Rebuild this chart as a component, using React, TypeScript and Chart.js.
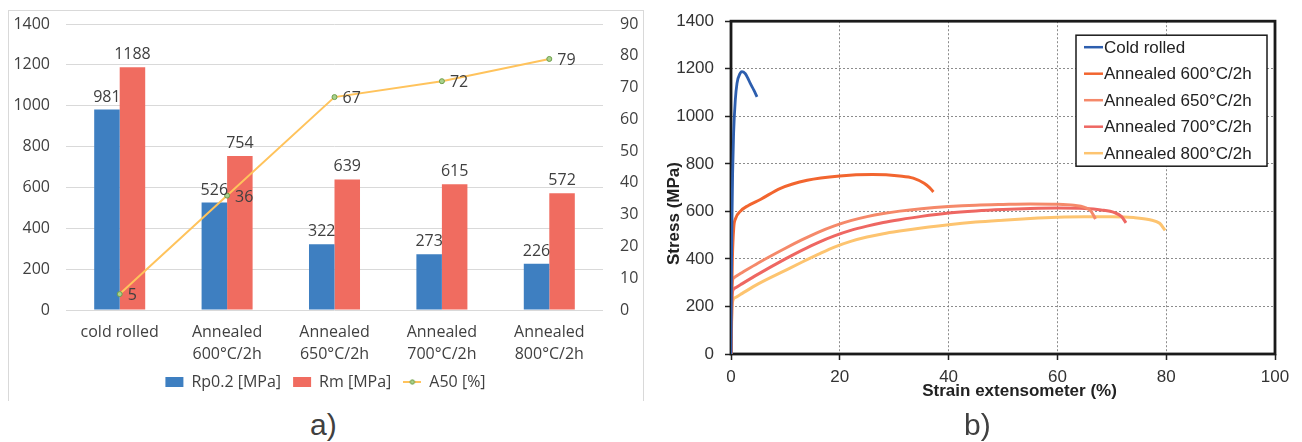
import React, { useEffect, useRef } from "react";
import { Chart, registerables } from "chart.js";

Chart.register(...registerables);

// ---------- chart a) data ----------
const categories = [
  ["cold rolled"],
  ["Annealed", "600°C/2h"],
  ["Annealed", "650°C/2h"],
  ["Annealed", "700°C/2h"],
  ["Annealed", "800°C/2h"],
];
const rp02 = [981, 526, 322, 273, 226];
const rm = [1188, 754, 639, 615, 572];
const a50 = [5, 36, 67, 72, 79];
const seriesNamesA = ["Rp0.2 [MPa]", "Rm [MPa]", "A50 [%]"];

// ---------- chart b) data (strain %, stress MPa) ----------
const coldStrain = [0, 0.05, 0.1, 0.18, 0.3, 0.48, 0.79, 1.1, 1.7, 2.0, 2.6, 3.1, 3.55, 4.2, 4.78];
const coldStress = [0, 200, 400, 563, 760, 928, 1068, 1138, 1182, 1188, 1180, 1160, 1138, 1110, 1082];

const a600Strain = [0, 0.1, 0.25, 0.5, 0.8, 1.7, 3.2, 5.4, 9.1, 14, 20, 26, 31, 33.5, 35.5, 36.5, 37.2];
const a600Stress = [0, 200, 400, 530, 568, 600, 625, 650, 697, 731, 749, 755, 749, 740, 718, 700, 682];

const a650Strain = [0, 0.1, 0.2, 0.5, 1, 2, 5, 10, 13, 16, 19, 22, 25, 28, 31, 35, 40, 45, 50, 55, 60, 63, 65, 66.2, 67];
const a650Stress = [0, 150, 290, 320, 328, 342, 383, 445, 480, 512, 539, 561, 578, 591, 601, 611, 620, 626, 629, 631, 630, 626, 617, 600, 568];

const a700Strain = [0, 0.1, 0.2, 0.5, 1, 2, 5, 10, 13, 16, 19, 22, 25, 28, 31, 35, 40, 45, 50, 55, 60, 65, 68, 70.5, 71.8, 72.6];
const a700Stress = [0, 140, 245, 273, 281, 295, 336, 400, 436, 469, 497, 520, 538, 553, 565, 579, 593, 602, 608, 612, 614, 612, 606, 595, 578, 552];

const a800Strain = [0, 0.1, 0.2, 0.5, 1, 2, 5, 10, 13, 16, 19, 22, 25, 28, 31, 35, 40, 45, 50, 55, 60, 65, 70, 74, 77, 78.8, 79.8];
const a800Stress = [0, 110, 200, 232, 240, 254, 295, 352, 386, 419, 450, 474, 492, 506, 517, 530, 544, 555, 563, 570, 575, 577, 577, 574, 565, 550, 520];

const curveNames = [
  "Cold rolled",
  "Annealed 600°C/2h",
  "Annealed 650°C/2h",
  "Annealed 700°C/2h",
  "Annealed 800°C/2h",
];
const curveStrains = [coldStrain, a600Strain, a650Strain, a700Strain, a800Strain];
const curveStresses = [coldStress, a600Stress, a650Stress, a700Stress, a800Stress];
const curveColors = ["#2D5EAE", "#F2652F", "#F5896A", "#EE6762", "#FDC470"];

// ---------- styles ----------
const FONT_A = "'Open Sans', sans-serif";
const FONT_B = "'Liberation Sans', Arial, sans-serif";
const TXT_A = "#404040";
const BLUE = "#3E7FC1";
const RED = "#F06C60";
const LINE = "#FFC35C";
const PT_FILL = "#A9D18E";
const PT_BORDER = "#6E9F4A";
const CLEAR = "rgba(0,0,0,0)";

const plain = (v: any) => String(v);

function makeLineIcon(): HTMLCanvasElement {
  const c = document.createElement("canvas");
  c.width = 18;
  c.height = 10;
  const g = c.getContext("2d")!;
  g.strokeStyle = LINE;
  g.lineWidth = 2;
  g.beginPath();
  g.moveTo(0, 5);
  g.lineTo(18, 5);
  g.stroke();
  g.beginPath();
  g.arc(9, 5, 2.2, 0, Math.PI * 2);
  g.fillStyle = PT_FILL;
  g.fill();
  g.strokeStyle = PT_BORDER;
  g.lineWidth = 1;
  g.stroke();
  return c;
}

const valueLabels = {
  id: "valueLabels",
  afterDatasetsDraw(chart: any) {
    const ctx = chart.ctx;
    ctx.save();
    ctx.font = `16px ${FONT_A}`;
    ctx.fillStyle = TXT_A;
    ctx.textBaseline = "alphabetic";
    chart.data.datasets.forEach((ds: any, di: number) => {
      const meta = chart.getDatasetMeta(di);
      meta.data.forEach((el: any, i: number) => {
        const v = String(ds.data[i]);
        if (ds.type === "line") {
          ctx.textAlign = "left";
          ctx.fillText(v, el.x + 8, el.y + 6);
        } else {
          ctx.textAlign = "center";
          ctx.fillText(v, el.x, el.y - 8);
        }
      });
    });
    ctx.restore();
  },
};

const frameAndLegendB = {
  id: "frameAndLegendB",
  beforeDatasetsDraw(chart: any) {
    const { ctx, chartArea: a } = chart;
    ctx.save();
    ctx.strokeStyle = "#1a1a1a";
    ctx.lineWidth = 2.8;
    ctx.strokeRect(a.left, a.top, a.right - a.left, a.bottom - a.top);
    ctx.restore();
  },
  afterDatasetsDraw(chart: any) {
    const { ctx, chartArea: a } = chart;
    const w = 191;
    const h = 131;
    const left = a.right - 8 - w;
    const top = a.top + 14;
    ctx.save();
    ctx.fillStyle = "#ffffff";
    ctx.fillRect(left, top, w, h);
    ctx.strokeStyle = "#1a1a1a";
    ctx.lineWidth = 1.5;
    ctx.strokeRect(left, top, w, h);
    ctx.font = `17px ${FONT_B}`;
    ctx.textAlign = "left";
    ctx.textBaseline = "middle";
    chart.data.datasets.forEach((ds: any, i: number) => {
      const y = top + 12 + i * 26.5;
      ctx.strokeStyle = ds.borderColor;
      ctx.lineWidth = 2.5;
      ctx.beginPath();
      ctx.moveTo(left + 8, y);
      ctx.lineTo(left + 27, y);
      ctx.stroke();
      ctx.fillStyle = "#222";
      ctx.fillText(ds.label, left + 28, y + 1);
    });
    ctx.restore();
  },
};

export default function App() {
  const refA = useRef<HTMLCanvasElement>(null);
  const refB = useRef<HTMLCanvasElement>(null);

  useEffect(() => {
    const lineIcon = makeLineIcon();
    const fontA = { family: FONT_A, size: 16 };

    const chartA = new Chart(refA.current!, {
      type: "bar",
      data: {
        labels: categories as any,
        datasets: [
          {
            type: "bar",
            label: seriesNamesA[0],
            data: rp02,
            backgroundColor: BLUE,
            borderWidth: 0,
            yAxisID: "y",
            categoryPercentage: 0.475,
            barPercentage: 1,
            order: 1,
          },
          {
            type: "bar",
            label: seriesNamesA[1],
            data: rm,
            backgroundColor: RED,
            borderWidth: 0,
            yAxisID: "y",
            categoryPercentage: 0.475,
            barPercentage: 1,
            order: 1,
          },
          {
            type: "line",
            label: seriesNamesA[2],
            data: a50,
            borderColor: LINE,
            backgroundColor: LINE,
            borderWidth: 2,
            pointRadius: 2.5,
            pointBackgroundColor: PT_FILL,
            pointBorderColor: PT_BORDER,
            pointBorderWidth: 1,
            tension: 0,
            yAxisID: "y1",
            order: 0,
          } as any,
        ],
      },
      options: {
        responsive: false,
        animation: false,
        layout: { padding: { top: 14, left: 0, right: 0, bottom: 0 } },
        plugins: {
          tooltip: { enabled: false },
          legend: {
            position: "bottom",
            labels: {
              usePointStyle: true,
              pointStyleWidth: 18,
              boxHeight: 10,
              padding: 12,
              font: fontA,
              color: TXT_A,
              generateLabels: (chart: any) =>
                [0, 1, 2].map((i) => {
                  const ds = chart.data.datasets[i];
                  return {
                    text: ds.label,
                    fillStyle: ds.backgroundColor,
                    strokeStyle: ds.backgroundColor,
                    lineWidth: 0,
                    pointStyle: i === 2 ? lineIcon : "rect",
                    datasetIndex: i,
                    hidden: false,
                    fontColor: TXT_A,
                  };
                }),
            },
          },
        },
        scales: {
          x: {
            grid: { display: false, drawTicks: false },
            border: { display: false },
            ticks: {
              font: { ...fontA, lineHeight: 1.4 },
              color: TXT_A,
              padding: 11,
              maxRotation: 0,
              autoSkip: false,
            },
            afterFit: (s: any) => {
              s.height = 52;
            },
          },
          y: {
            position: "left",
            min: 0,
            max: 1400,
            ticks: { stepSize: 200, padding: 0, font: fontA, color: TXT_A, callback: plain },
            grid: {
              color: "#d9d9d9",
              drawTicks: true,
              tickLength: 16,
              tickColor: CLEAR,
              lineWidth: 1,
            },
            border: { display: false },
            afterFit: (s: any) => {
              s.width = 58;
            },
          },
          y1: {
            position: "right",
            min: 0,
            max: 90,
            ticks: { stepSize: 10, padding: 0, font: fontA, color: TXT_A, callback: plain },
            grid: {
              display: true,
              drawOnChartArea: false,
              drawTicks: true,
              tickLength: 17,
              tickColor: CLEAR,
              color: CLEAR,
            },
            border: { display: false },
            afterFit: (s: any) => {
              s.width = 40;
            },
          },
        },
      } as any,
      plugins: [valueLabels],
    });

    const tickFontB = { family: FONT_B, size: 17 };
    const titleFontB = { family: FONT_B, size: 17, weight: "bold" as const };
    const gridB = {
      color: "rgba(120,120,120,0.85)",
      lineWidth: 1,
      tickColor: "#222",
      tickLength: 6,
      tickWidth: 1.5,
      tickBorderDash: [],
    };

    const chartB = new Chart(refB.current!, {
      type: "scatter",
      data: {
        datasets: curveNames.map((name, k) => ({
          label: name,
          data: curveStrains[k].map((x, i) => ({ x, y: curveStresses[k][i] })),
          showLine: true,
          borderColor: curveColors[k],
          backgroundColor: curveColors[k],
          borderWidth: k === 0 ? 2.8 : 3,
          pointRadius: 0,
          cubicInterpolationMode: "monotone",
          fill: false,
        })),
      },
      options: {
        responsive: false,
        animation: false,
        layout: { padding: { top: 21, right: 27, left: 0, bottom: 0 } },
        plugins: { legend: { display: false }, tooltip: { enabled: false } },
        scales: {
          x: {
            type: "linear",
            min: 0,
            max: 100,
            ticks: { stepSize: 20, padding: 7, font: tickFontB, color: "#333", callback: plain },
            grid: gridB,
            border: { display: false, dash: [2, 2] },
            title: {
              display: true,
              text: "       Strain extensometer (%)",
              font: titleFontB,
              color: "#222",
              padding: { top: 0, bottom: 8 },
            },
            afterFit: (s: any) => {
              s.height = 56;
            },
          },
          y: {
            min: 0,
            max: 1400,
            ticks: { stepSize: 200, padding: 11, font: tickFontB, color: "#333", callback: plain },
            grid: gridB,
            border: { display: false, dash: [2, 2] },
            title: {
              display: true,
              text: "Stress (MPa)           ",
              font: titleFontB,
              color: "#222",
              padding: { top: 14, bottom: 0 },
            },
            afterFit: (s: any) => {
              s.width = 81;
            },
          },
        },
      } as any,
      plugins: [frameAndLegendB],
    });

    return () => {
      chartA.destroy();
      chartB.destroy();
    };
  }, []);

  const caption = {
    position: "absolute" as const,
    top: 408,
    font: "30px 'Liberation Sans', Arial, sans-serif",
    lineHeight: "34px",
    color: "#404040",
  };

  return (
    <div
      style={{
        position: "absolute",
        left: 0,
        top: 0,
        width: 1302,
        height: 442,
        background: "#ffffff",
        overflow: "hidden",
      }}
    >
      <div
        style={{
          position: "absolute",
          left: 8,
          top: 10,
          width: 636,
          height: 391,
          boxSizing: "border-box",
          borderTop: "1px solid #d9d9d9",
          borderLeft: "1px solid #d9d9d9",
          borderRight: "1px solid #d9d9d9",
        }}
      />
      <canvas
        ref={refA}
        width={635}
        height={390}
        style={{ position: "absolute", left: 8, top: 10 }}
      />
      <canvas
        ref={refB}
        width={652}
        height={410}
        style={{ position: "absolute", left: 650, top: 0 }}
      />
      <span style={{ ...caption, left: 310 }}>a)</span>
      <span style={{ ...caption, left: 964 }}>b)</span>
    </div>
  );
}
